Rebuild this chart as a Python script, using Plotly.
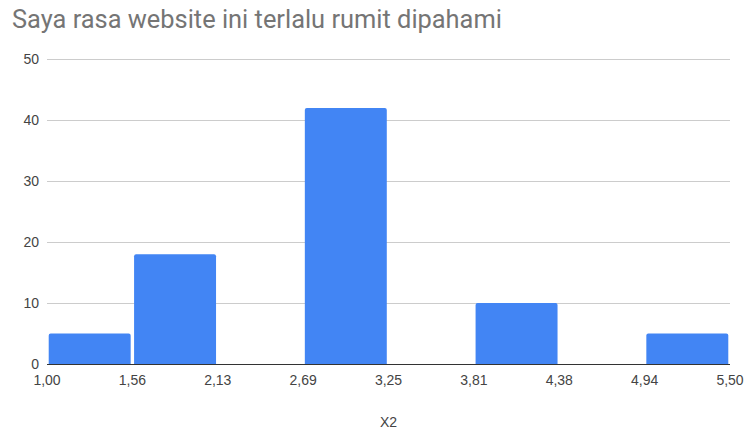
import plotly.graph_objects as go

bin_edges = [1.00, 1.5625, 2.125, 2.6875, 3.25, 3.8125, 4.375, 4.9375, 5.50]
counts = [5, 18, 0, 42, 0, 10, 0, 5]
tick_labels = ["1,00", "1,56", "2,13", "2,69", "3,25", "3,81", "4,38", "4,94", "5,50"]
y_ticks = [0, 10, 20, 30, 40, 50]

centers = [(a + b) / 2 for a, b in zip(bin_edges[:-1], bin_edges[1:])]
widths = [(b - a) * 0.96 for a, b in zip(bin_edges[:-1], bin_edges[1:])]

fig = go.Figure(go.Bar(
    x=centers, y=counts, width=widths,
    marker=dict(color="#4285F4", line=dict(width=0)),
    hoverinfo="x+y",
))

fig.update_layout(
    width=747, height=430,
    margin=dict(l=47, r=17, t=58, b=66),
    paper_bgcolor="white", plot_bgcolor="white",
    showlegend=False,
    barcornerradius=2,
    title=dict(text="Saya rasa website ini terlalu rumit dipahami",
               x=12 / 747, xanchor="left", y=0.955, yanchor="middle",
               font=dict(family="Roboto, Arial", size=25.4, color="#757575")),
    font=dict(family="Liberation Sans, Arial", size=14, color="#444444"),
    xaxis=dict(
        range=[bin_edges[0], bin_edges[-1]],
        tickmode="array", tickvals=bin_edges, ticktext=tick_labels,
        showgrid=False, zeroline=False, showline=True, linecolor="#333333", linewidth=1,
        ticks="", ticklabelstandoff=3, tickfont=dict(size=14, color="#444444"),
        automargin=False,
        title=dict(text="X2", font=dict(size=14, color="#444444"), standoff=30),
    ),
    yaxis=dict(
        range=[0, 50.2], tickmode="array", tickvals=y_ticks,
        showgrid=True, gridcolor="#cccccc", gridwidth=1, zeroline=False,
        automargin=False,
        ticks="", ticklabelstandoff=7, tickfont=dict(size=14, color="#444444"),
    ),
)

fig.write_html(
    "out.html",
    config={"displayModeBar": False},
    post_script="document.body.style.margin='0';document.body.style.overflow='hidden';",
)
